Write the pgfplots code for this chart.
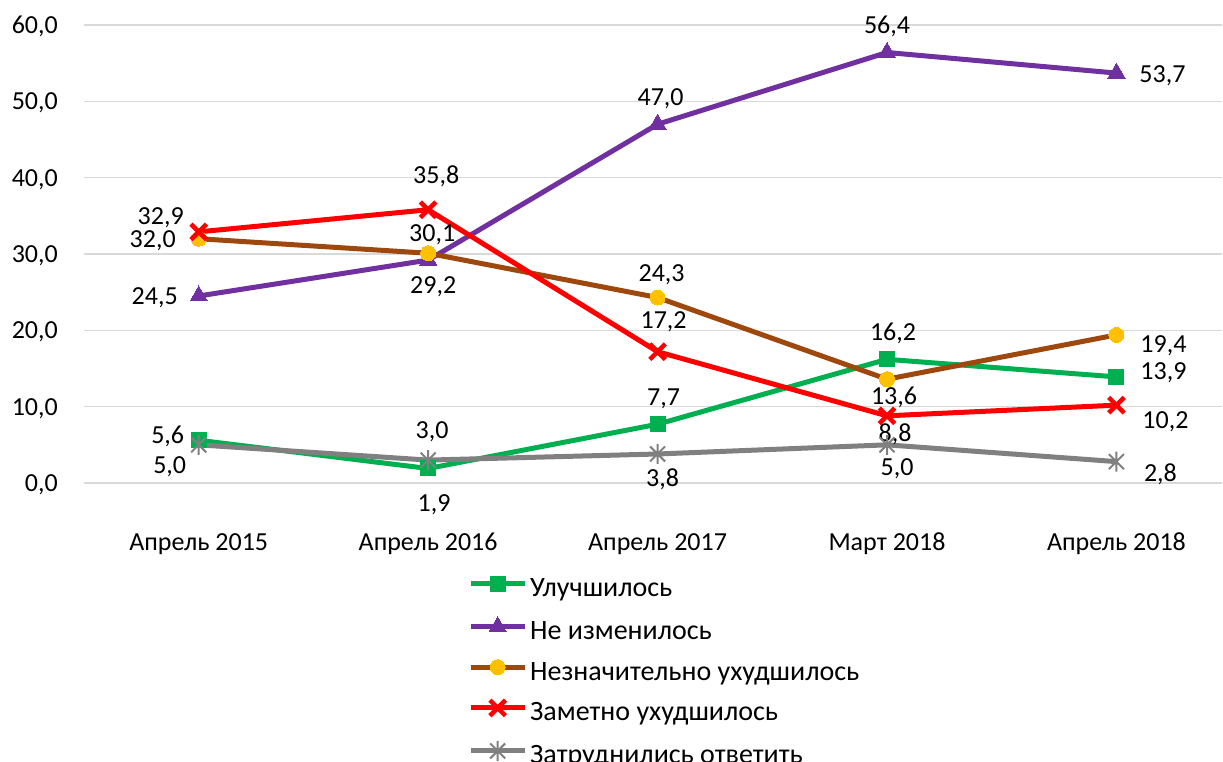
\documentclass[border=0pt]{standalone}
\usepackage{fontspec}
\setmainfont{Carlito}
\usepackage{pgfplots}
\pgfplotsset{compat=1.18}
\usepackage{pgfplotstable}
\pgfkeys{/pgf/number format/assume math mode=true}
\definecolor{cGreen}{HTML}{00B050}
\definecolor{cPurple}{HTML}{7030A0}
\definecolor{cBrown}{HTML}{9E480E}
\definecolor{cYellow}{HTML}{FFC000}
\definecolor{cRed}{HTML}{FF0000}
\definecolor{cGray}{HTML}{808080}
\definecolor{cGrid}{HTML}{D9D9D9}
\newcommand\cf{\fontsize{26}{31}\selectfont}
\newcommand\lf{\fontsize{28}{33}\selectfont}
\pgfdeclareplotmark{xstar}{%
  \pgfpathmoveto{\pgfqpoint{0pt}{\pgfplotmarksize}}%
  \pgfpathlineto{\pgfqpoint{0pt}{-\pgfplotmarksize}}%
  \pgfpathmoveto{\pgfqpoint{-0.75\pgfplotmarksize}{-0.75\pgfplotmarksize}}%
  \pgfpathlineto{\pgfqpoint{0.75\pgfplotmarksize}{0.75\pgfplotmarksize}}%
  \pgfpathmoveto{\pgfqpoint{-0.75\pgfplotmarksize}{0.75\pgfplotmarksize}}%
  \pgfpathlineto{\pgfqpoint{0.75\pgfplotmarksize}{-0.75\pgfplotmarksize}}%
  \pgfusepathqstroke}

\pgfplotstableread{
x y dx dy
0 5.6 -31 5
1 1.9 6 -35
2 7.7 6 27
3 16.2 6 27
4 13.9 47 6
}\tGreen
\pgfplotstableread{
x y dx dy
0 24.5 -44 0
1 29.2 5 -25
2 47.0 3 27
3 56.4 0 27.5
4 53.7 46 -1
}\tPurple
\pgfplotstableread{
x y dx dy
0 32.0 -46 0
1 30.1 4 20
2 24.3 4 24.5
3 13.6 7 -17
4 19.4 47 -9
}\tBrown
\pgfplotstableread{
x y dx dy
0 32.9 -38 16
1 35.8 8 35
2 17.2 6 32
3 8.8 8 -17
4 10.2 49 -15
}\tRed
\pgfplotstableread{
x y dx dy
0 5.0 -29 -20
1 3.0 4 30
2 3.8 5 -24
3 5.0 10 -22
4 2.8 44 -11
}\tGray

\begin{document}
\begin{tikzpicture}
\useasboundingbox (-84pt,-279pt) rectangle (1139pt,483pt);
\begin{axis}[
  at={(0pt,0pt)}, anchor=south west,
  scale only axis, width=1138pt, height=458pt,
  xmin=-0.5, xmax=4.46, ymin=0, ymax=60,
  clip=false,
  axis line style={draw=none},
  major tick length=0pt,
  xtick={0,1,2,3,4},
  xticklabels={Апрель 2015, Апрель 2016, Апрель 2017, Март 2018, Апрель 2018},
  ytick={0,10,...,60},
  ymajorgrids, grid style={cGrid, line width=1.3pt},
  tick label style={font=\cf, text=black},
  yticklabel style={/pgf/number format/.cd, fixed, fixed zerofill, precision=1, use comma, /tikz/.cd, inner sep=0pt, text height=17pt, text depth=0pt, anchor=east, xshift=-26pt},
  xticklabel style={inner sep=0pt, text height=17pt, text depth=0pt, anchor=north, yshift=-50pt},
  every axis plot/.append style={line width=5pt},
  visualization depends on={\thisrow{dx}\as\dx},
  visualization depends on={\thisrow{dy}\as\dy},
  nodes near coords={\pgfmathprintnumber[fixed, fixed zerofill, precision=1, use comma]{\pgfplotspointmeta}},
  every node near coord/.style={font=\cf, text=black, inner sep=0pt, text height=17pt, text depth=0pt, anchor=center, xshift=\dx pt, yshift=\dy pt},
  legend cell align=left,
  legend style={at={(0.3374,-0.203)}, anchor=north west, draw=none, fill=none, inner sep=0pt, font=\lf,
    row sep=13pt, column sep=3pt,
    nodes={inner sep=0pt, text height=20pt, text depth=7pt, anchor=west}},
  legend image code/.code={\draw[mark repeat=2, mark phase=2, line width=5pt] plot coordinates {(0pt,6.5pt) (27pt,6.5pt) (54pt,6.5pt)};},
]
\addplot[cGreen, mark=square*, mark size=7.5pt, mark options={line width=0pt}] table[x=x,y=y] {\tGreen};
\addlegendentry{Улучшилось}
\addplot[cPurple, mark=triangle*, mark size=10pt, mark options={line width=0pt}] table[x=x,y=y] {\tPurple};
\addlegendentry{Не изменилось}
\addplot[cBrown, mark=*, mark size=7.5pt, mark options={fill=cYellow, draw=cYellow, line width=0pt}] table[x=x,y=y] {\tBrown};
\addlegendentry{Незначительно ухудшилось}
\addplot[cRed, mark=x, mark size=11pt, mark options={line width=4.5pt}] table[x=x,y=y] {\tRed};
\addlegendentry{Заметно ухудшилось}
\addplot[cGray, mark=xstar, mark size=10pt, mark options={line width=2pt}] table[x=x,y=y] {\tGray};
\addlegendentry{Затруднились ответить}
\end{axis}
\end{tikzpicture}
\end{document}
